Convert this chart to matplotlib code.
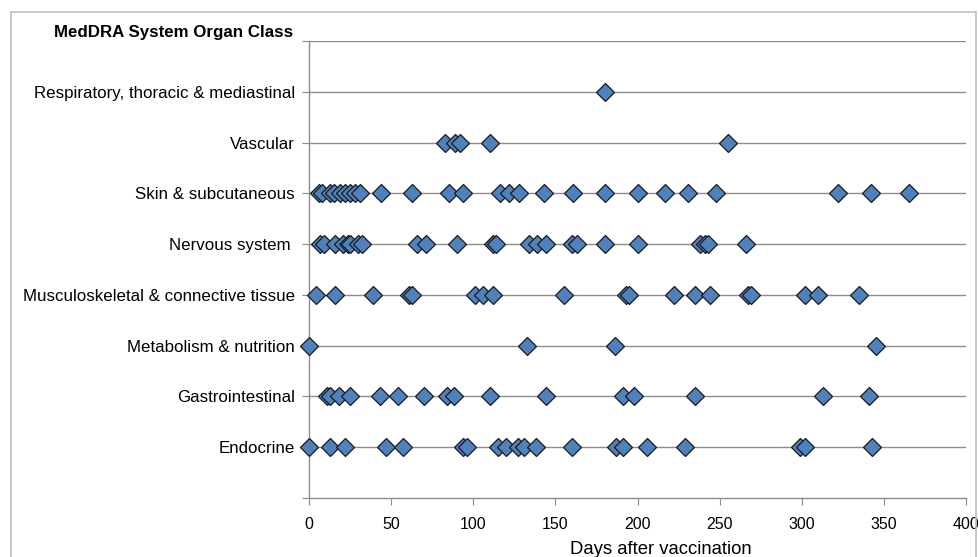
import numpy as np
import matplotlib.pyplot as plt
from matplotlib.lines import Line2D

plt.rcParams['font.family'] = ['Liberation Sans', 'DejaVu Sans']

# category labels, bottom to top
categories = ['Endocrine', 'Gastrointestinal', 'Metabolism & nutrition',
              'Musculoskeletal & connective tissue', 'Nervous system ',
              'Skin & subcutaneous', 'Vascular',
              'Respiratory, thoracic & mediastinal']

# days after vaccination, one list per category
endocrine = [0, 13, 22, 47, 57, 94, 96, 115, 120, 127, 131, 138, 160, 187, 191,
             206, 229, 299, 302, 343]
gastro = [11, 13, 18, 25, 43, 54, 70, 84, 88, 110, 144, 191, 198, 235, 313, 341]
metabolism = [0, 133, 186, 345]
musculo = [4, 16, 39, 61, 63, 101, 106, 112, 155, 193, 195, 222, 235, 244, 267,
           269, 302, 310, 335]
nervous = [7, 9, 16, 21, 24, 25, 30, 32, 66, 71, 90, 112, 114, 134, 139, 144,
           160, 163, 180, 200, 238, 241, 243, 266]
skin = [6, 8, 13, 15, 19, 22, 25, 28, 31, 44, 63, 85, 94, 116, 122, 128, 143,
        161, 180, 200, 217, 231, 248, 322, 342, 365]
vascular = [83, 89, 92, 110, 255]
respiratory = [180]

series = [endocrine, gastro, metabolism, musculo, nervous, skin, vascular, respiratory]

xticks = [0, 50, 100, 150, 200, 250, 300, 350, 400]

fig = plt.figure(figsize=(9.79, 5.57), dpi=100)
ax = fig.add_axes([309/979, 1-498/557, 657/979, 457/557])

grid_col = '#8c8c8c'
for lvl in range(1, 10):
    ax.axhline(lvl, color=grid_col, lw=1.0, zorder=1)

for i, days in enumerate(series):
    ax.plot(days, [i+1]*len(days), linestyle='none', marker='D', markersize=9,
            markerfacecolor='#4F81BD', markeredgecolor='#1a1a1a',
            markeredgewidth=0.9, zorder=3, clip_on=False)

ax.set_xlim(0, 400)
ax.set_ylim(0, 9)
ax.set_xticks(xticks)
ax.set_xticklabels([str(t) for t in xticks], fontsize=11.5)
ax.set_yticks(range(0, 10))
ax.set_yticklabels([''] + categories + [''], fontsize=12.2)
ax.tick_params(axis='y', length=5, color=grid_col, pad=5)
ax.tick_params(axis='x', length=5, color=grid_col, pad=9)
ax.set_xlabel('Days after vaccination', fontsize=13.3, labelpad=6)
ax.xaxis.label.set_x(214/400)

for s in ['top', 'right']:
    ax.spines[s].set_visible(False)
for s in ['left', 'bottom']:
    ax.spines[s].set_color(grid_col)
    ax.spines[s].set_linewidth(1.0)

ax.text(-0.024, 9.16, 'MedDRA System Organ Class', transform=ax.get_yaxis_transform(),
        ha='right', va='center', fontsize=12.2, fontweight='bold')

# outer frame
frame_col = '#bfbfbf'
fig.add_artist(Line2D([11/979, 11/979], [0, 1-12/557], color=frame_col, lw=1.2))
fig.add_artist(Line2D([11/979, 976/979], [1-12/557, 1-12/557], color=frame_col, lw=1.2))
fig.add_artist(Line2D([976/979, 976/979], [0, 1-12/557], color=frame_col, lw=1.2))

fig.savefig('out.png', dpi=100)
